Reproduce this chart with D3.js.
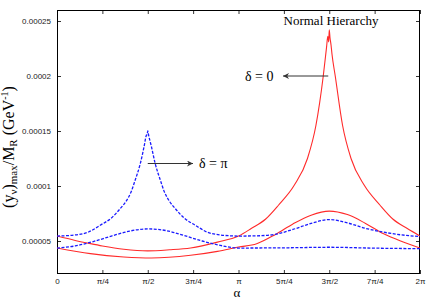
<!DOCTYPE html>
<html><head><meta charset="utf-8">
<script src="https://cdn.jsdelivr.net/npm/d3@7"></script>
<style>body{margin:0;background:#fff}</style>
</head><body><svg id="c" width="436" height="300"></svg>
<script>
// x tick labels (alpha in units of pi)
const xTickValues = [0, 0.25, 0.5, 0.75, 1, 1.25, 1.5, 1.75, 2];
const xTickLabels = ["0", "π/4", "π/2", "3π/4", "π", "5π/4", "3π/2", "7π/4", "2π"];
const yTickValues = [5e-5, 10e-5, 15e-5, 20e-5, 25e-5];
const yTickLabels = ["0.00005", "0.0001", "0.00015", "0.0002", "0.00025"];

// delta = 0 (red, solid) — large peak at 3π/2
const redAAlpha = [0, 0.1, 0.184, 0.25, 0.368, 0.5, 0.62, 0.736, 0.884, 1.0, 1.07, 1.15, 1.22, 1.307, 1.38, 1.4265, 1.467, 1.485, 1.492, 1.497, 1.5, 1.504, 1.51, 1.515, 1.533, 1.5735, 1.62, 1.693, 1.78, 1.85, 1.93, 2.0];
const redAVals = [5.45e-5, 5.05e-5, 4.76e-5, 4.55e-5, 4.25e-5, 4.1e-5, 4.2e-5, 4.37e-5, 4.9e-5, 5.45e-5, 6.13e-5, 7.0e-5, 8.25e-5, 10.06e-5, 12.5e-5, 15.5e-5, 20.0e-5, 22.6e-5, 23.6e-5, 23.1e-5, 24.2e-5, 23.5e-5, 22.8e-5, 22.0e-5, 20.0e-5, 15.5e-5, 12.5e-5, 10.06e-5, 8.25e-5, 7.0e-5, 6.13e-5, 5.45e-5];
// delta = 0 (red, solid) — small bump at 3π/2
const redBAlpha = [0, 0.184, 0.368, 0.52, 0.736, 0.884, 1.0, 1.1, 1.204, 1.3, 1.4, 1.5, 1.6, 1.7, 1.8, 1.9, 2.0];
const redBVals = [4.36e-5, 3.85e-5, 3.55e-5, 3.45e-5, 3.7e-5, 4.06e-5, 4.45e-5, 4.75e-5, 5.6e-5, 6.55e-5, 7.35e-5, 7.72e-5, 7.4e-5, 6.6e-5, 5.65e-5, 4.95e-5, 4.36e-5];
// delta = π (blue, dashed) — large peak at π/2
const blueAAlpha = [0, 0.1, 0.174, 0.238, 0.3, 0.348, 0.38, 0.408, 0.43, 0.459, 0.48, 0.492, 0.497, 0.5, 0.505, 0.52, 0.541, 0.57, 0.592, 0.62, 0.652, 0.7, 0.762, 0.826, 0.9, 1.0, 1.1, 1.2, 1.3, 1.4, 1.5, 1.6, 1.7, 1.8, 1.9, 2.0];
const blueAVals = [5.45e-5, 5.55e-5, 5.82e-5, 6.43e-5, 7.1e-5, 7.94e-5, 8.6e-5, 9.45e-5, 10.5e-5, 12.04e-5, 13.6e-5, 14.6e-5, 14.7e-5, 15.0e-5, 14.6e-5, 13.6e-5, 12.04e-5, 10.5e-5, 9.45e-5, 8.6e-5, 7.94e-5, 7.1e-5, 6.43e-5, 5.82e-5, 5.55e-5, 5.45e-5, 5.47e-5, 5.6e-5, 6.05e-5, 6.6e-5, 6.95e-5, 6.65e-5, 6.15e-5, 5.8e-5, 5.55e-5, 5.4e-5];
// delta = π (blue, dashed) — small bump at π/2
const blueBAlpha = [0, 0.1, 0.2, 0.3, 0.4, 0.5, 0.6, 0.7, 0.8, 0.9, 1.0, 1.25, 1.5, 1.75, 2.0];
const blueBVals = [4.36e-5, 4.55e-5, 4.95e-5, 5.45e-5, 5.9e-5, 6.1e-5, 5.95e-5, 5.5e-5, 5.0e-5, 4.6e-5, 4.36e-5, 4.38e-5, 4.43e-5, 4.35e-5, 4.3e-5];

const svg = d3.select("#c");
const L = 57, R = 420, T = 10, B = 274;
const x = d3.scaleLinear().domain([0, 2]).range([L, R]);
const y = d3.scaleLinear().domain([2e-5, 26e-5]).range([B, T]);

const defs = svg.append("defs");
defs.append("clipPath").attr("id", "clip")
  .append("rect").attr("x", L).attr("y", T).attr("width", R - L).attr("height", B - T);
defs.append("marker").attr("id", "ah").attr("viewBox", "0 0 10 10").attr("refX", 10).attr("refY", 5)
  .attr("markerWidth", 8).attr("markerHeight", 6).attr("markerUnits", "userSpaceOnUse").attr("orient", "auto")
  .append("path").attr("d", "M0,0 L10,5 L0,10 L3,5 Z").attr("fill", "#333");

const sans = "'Liberation Sans', Arial, sans-serif";
const serif = "'Liberation Serif', 'Times New Roman', serif";

// axes with inward ticks
const ax = g => g.selectAll("text").attr("font-family", sans).attr("font-size", 8).attr("fill", "#222");
svg.append("g").attr("transform", `translate(0,${B})`)
  .call(d3.axisBottom(x).tickValues(xTickValues).tickFormat((d, i) => xTickLabels[i]).tickSizeInner(-4).tickSizeOuter(0).tickPadding(4))
  .call(g => g.select(".domain").remove()).call(ax);
svg.append("g").attr("transform", `translate(0,${T})`)
  .call(d3.axisTop(x).tickValues(xTickValues).tickFormat("").tickSizeInner(-4).tickSizeOuter(0))
  .call(g => g.select(".domain").remove());
svg.append("g").attr("transform", `translate(${L},0)`)
  .call(d3.axisLeft(y).tickValues(yTickValues).tickFormat((d, i) => yTickLabels[i]).tickSizeInner(-4).tickSizeOuter(0).tickPadding(6))
  .call(g => g.select(".domain").remove()).call(ax);
svg.append("g").attr("transform", `translate(${R},0)`)
  .call(d3.axisRight(y).tickValues(yTickValues).tickFormat("").tickSizeInner(-4).tickSizeOuter(0))
  .call(g => g.select(".domain").remove());
svg.selectAll(".tick line").attr("stroke", "#333");

svg.append("rect").attr("x", L + 0.5).attr("y", T + 0.5).attr("width", R - L - 1).attr("height", B - T - 1)
  .attr("fill", "none").attr("stroke", "#000").attr("stroke-width", 1);

const line = d3.line().x(d => x(d[0])).y(d => y(d[1])).curve(d3.curveMonotoneX);
const series = [
  {a: redBAlpha, v: redBVals, c: "#ff2a2a", dash: null},
  {a: redAAlpha, v: redAVals, c: "#ff2a2a", dash: null},
  {a: blueBAlpha, v: blueBVals, c: "#1a1aff", dash: "3,1.5"},
  {a: blueAAlpha, v: blueAVals, c: "#1a1aff", dash: "3,1.5"}
];
const plot = svg.append("g").attr("clip-path", "url(#clip)");
series.forEach(s => {
  plot.append("path").datum(s.a.map((a, i) => [a, s.v[i]]))
    .attr("d", line).attr("fill", "none").attr("stroke", s.c)
    .attr("stroke-width", s.dash ? 1.3 : 1.1)
    .attr("stroke-dasharray", s.dash);
});

// annotations
svg.append("text").attr("x", 331).attr("y", 25).attr("text-anchor", "middle")
  .attr("font-family", serif).attr("font-size", 13).text("Normal Hierarchy");
svg.append("line").attr("x1", x(1.5) - 1).attr("y1", 76).attr("x2", 283).attr("y2", 76)
  .attr("stroke", "#333").attr("stroke-width", 1).attr("marker-end", "url(#ah)");
svg.append("text").attr("x", 245).attr("y", 81).attr("font-family", serif).attr("font-size", 14).text("δ = 0");
svg.append("line").attr("x1", x(0.5)).attr("y1", 163.5).attr("x2", 193).attr("y2", 163.5)
  .attr("stroke", "#333").attr("stroke-width", 1).attr("marker-end", "url(#ah)");
svg.append("text").attr("x", 199).attr("y", 168).attr("font-family", serif).attr("font-size", 14).text("δ = π");

// axis titles
svg.append("text").attr("x", 237).attr("y", 297).attr("text-anchor", "middle")
  .attr("font-family", serif).attr("font-size", 13).text("α");
const yl = svg.append("text").attr("transform", "translate(14,147) rotate(-90)").attr("text-anchor", "middle")
  .attr("font-family", serif).attr("font-size", 16);
yl.append("tspan").text("(y");
yl.append("tspan").attr("font-size", 11).attr("dy", 3).text("ν");
yl.append("tspan").attr("dy", -3).text(")");
yl.append("tspan").attr("font-size", 11).attr("dy", 3).text("max");
yl.append("tspan").attr("dy", -3).text("/M");
yl.append("tspan").attr("font-size", 11).attr("dy", 3).text("R");
yl.append("tspan").attr("dy", -3).text(" (GeV");
yl.append("tspan").attr("font-size", 10).attr("dy", -6).text("-1");
yl.append("tspan").attr("dy", 6).text(")");
</script></body></html>
